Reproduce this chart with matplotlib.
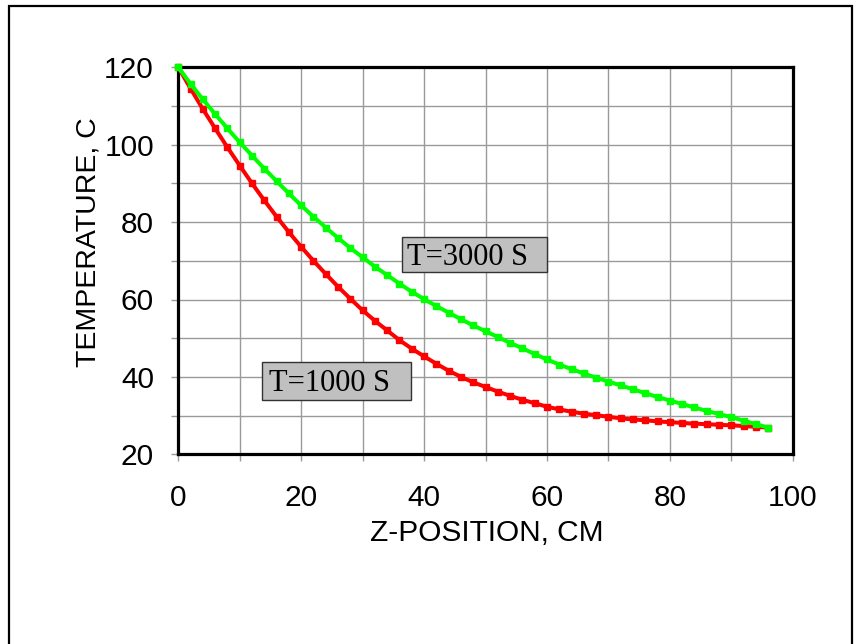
import matplotlib
matplotlib.use("Agg")
import matplotlib.pyplot as plt
from matplotlib.patches import Rectangle
from matplotlib.ticker import MultipleLocator, FuncFormatter

# z-position (cm) of the computed points
z_cm = [0, 2, 4, 6, 8, 10, 12, 14, 16, 18, 20, 22, 24, 26, 28, 30, 32, 34, 36, 38,
        40, 42, 44, 46, 48, 50, 52, 54, 56, 58, 60, 62, 64, 66, 68, 70, 72, 74, 76, 78,
        80, 82, 84, 86, 88, 90, 92, 94, 96]

# temperature (C) at t = 1000 s
temp_1000 = [120.0, 114.5, 109.2, 104.2, 99.3, 94.6, 90.0, 85.6, 81.4, 77.4,
             73.6, 70.0, 66.6, 63.3, 60.2, 57.2, 54.5, 52.0, 49.5, 47.3,
             45.3, 43.4, 41.6, 40.0, 38.6, 37.4, 36.2, 35.1, 34.1, 33.2,
             32.3, 31.6, 31.0, 30.5, 30.1, 29.7, 29.3, 29.0, 28.8, 28.5,
             28.3, 28.1, 27.9, 27.8, 27.6, 27.5, 27.3, 27.1, 26.9]

# temperature (C) at t = 3000 s
temp_3000 = [120.0, 115.7, 111.7, 107.9, 104.2, 100.6, 97.2, 93.8, 90.6, 87.4,
             84.3, 81.4, 78.6, 75.9, 73.3, 70.9, 68.5, 66.3, 64.1, 62.0,
             60.1, 58.3, 56.6, 54.9, 53.3, 51.8, 50.3, 48.8, 47.4, 45.9,
             44.5, 43.2, 42.0, 40.9, 39.8, 38.8, 37.8, 36.8, 35.8, 34.8,
             33.9, 33.0, 32.1, 31.2, 30.4, 29.6, 28.7, 27.8, 26.9]

labels = ["T=1000 S", "T=3000 S"]

plt.rcParams["font.family"] = ["Liberation Sans", "DejaVu Sans"]

fig = plt.figure(figsize=(8.59, 6.44), dpi=100)
ax = fig.add_axes([178.3 / 859, 1 - 454.3 / 644, 614.4 / 859, 387.0 / 644])

# outer frame of the picture
fig.add_artist(Rectangle((8.5 / 859, -0.05), (852 - 8.5) / 859, 1.05 - 5.5 / 644,
                         transform=fig.transFigure, fill=False, edgecolor="black",
                         linewidth=1.6))

ax.plot(z_cm, temp_1000, color="#ff0000", lw=2.9, marker="s", ms=3.7,
        clip_on=False, zorder=3)
ax.plot(z_cm, temp_3000, color="#00ff00", lw=2.9, marker="s", ms=3.7,
        clip_on=False, zorder=4)

ax.set_xlim(0, 100)
ax.set_ylim(20, 120)
ax.xaxis.set_major_locator(MultipleLocator(10))
ax.yaxis.set_major_locator(MultipleLocator(10))
fmt = FuncFormatter(lambda v, p: "%d" % v if round(v) % 20 == 0 else "")
ax.xaxis.set_major_formatter(fmt)
ax.yaxis.set_major_formatter(fmt)
ax.grid(True, color="#9a9a9a", lw=1.0)
ax.set_axisbelow(True)
ax.tick_params(axis="both", direction="out", length=5, width=1, color="#9a9a9a",
               labelsize=21.5)
ax.tick_params(axis="x", pad=16.5)
ax.tick_params(axis="y", pad=12.5)
for s in ax.spines.values():
    s.set_linewidth(2.3)
    s.set_color("black")

ax.set_xlabel("Z-POSITION, CM", fontsize=21.5)
ax.set_ylabel("TEMPERATURE, C", fontsize=20.5)
ax.xaxis.set_label_coords(0.502, -0.168)
ax.yaxis.set_label_coords(-0.1246, 0.548)

# label boxes
boxes = [(13.62, 34.03, 24.25, 9.82, 14.76, 36.43),
         (36.4, 67.1, 23.6, 9.0, 37.22, 68.9)]
for lab, (bx, by, bw, bh, tx, ty) in zip(labels, boxes):
    ax.add_patch(Rectangle((bx, by), bw, bh, facecolor="#c0c0c0",
                           edgecolor="#333333", lw=1.0, zorder=5))
    ax.text(tx, ty, lab, family=["Liberation Serif", "DejaVu Serif"],
            fontsize=22, ha="left", va="baseline", zorder=6)

fig.savefig("out.png", dpi=100)
